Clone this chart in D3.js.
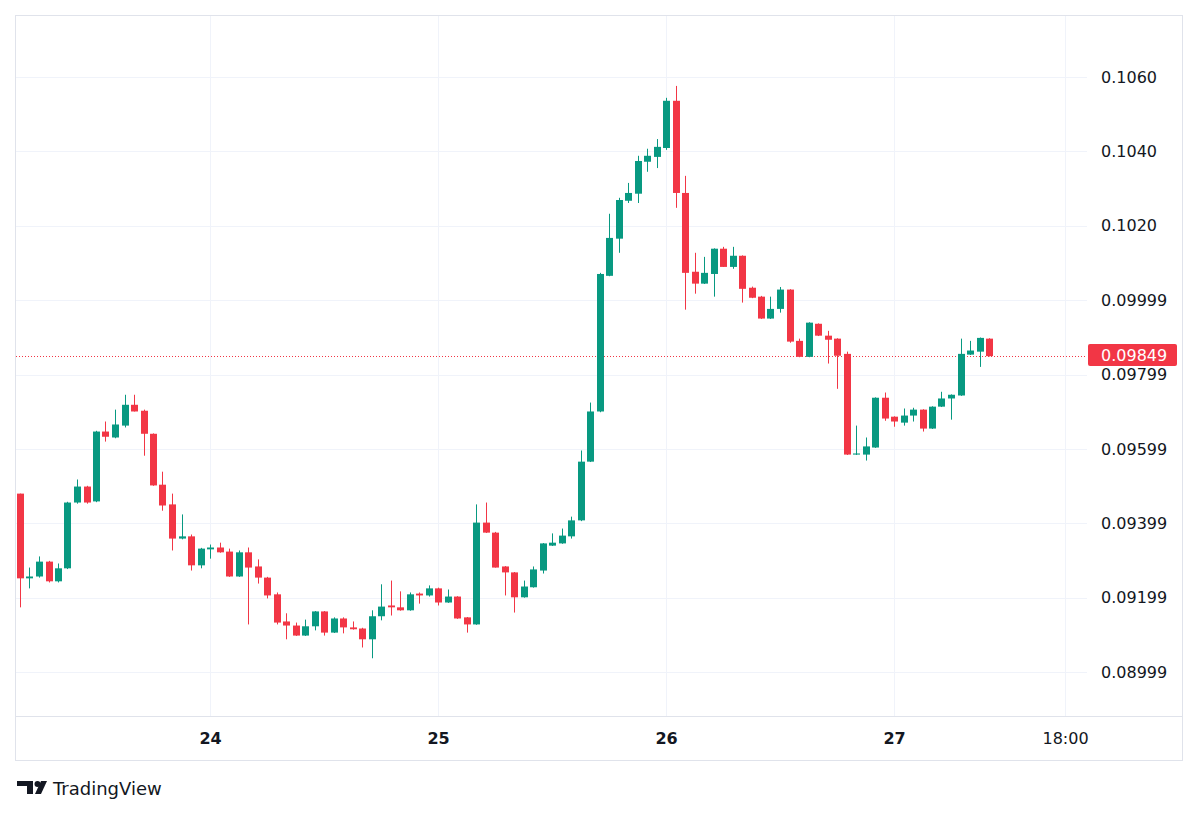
<html>
<head>
<style>
  body { margin: 0; background: #fff; }
  svg text { font-family: "DejaVu Sans", sans-serif; fill: #131722; }
</style>
</head>
<body>
<svg id="chart" width="1200" height="817"></svg>
<script src="https://cdn.jsdelivr.net/npm/d3@7"></script>
<script>
// hourly candles, first one at 23rd 04:00
const opens  = [0.09479,0.09251,0.09256,0.09296,0.09243,0.09278,0.09455,0.09498,0.09458,0.09646,
                0.09630,0.09662,0.09718,0.09702,0.09640,0.09503,0.09450,0.09358,0.09364,0.09286,
                0.09329,0.09334,0.09323,0.09256,0.09321,0.09283,0.09253,0.09208,0.09135,0.09124,
                0.09097,0.09122,0.09162,0.09105,0.09143,0.09119,0.09116,0.09087,0.09149,0.09178,
                0.09173,0.09165,0.09210,0.09205,0.09224,0.09186,0.09202,0.09146,0.09127,0.09401,
                0.09374,0.09283,0.09267,0.09200,0.09227,0.09272,0.09339,0.09345,0.09364,0.09407,
                0.09565,0.09700,0.10065,0.10165,0.10267,0.10286,0.10372,0.10385,0.10409,0.10536,
                0.10288,0.10076,0.10044,0.10070,0.10138,0.10089,0.10119,0.10033,0.10009,0.09950,
                0.09976,0.10028,0.09890,0.09847,0.09936,0.09904,0.09896,0.09855,0.09584,0.09584,
                0.09603,0.09737,0.09686,0.09670,0.09689,0.09705,0.09654,0.09713,0.09735,0.09743,
                0.09853,0.09861,0.09896]
const highs  = [0.09479,0.09280,0.09310,0.09298,0.09291,0.09457,0.09517,0.09500,0.09648,0.09673,
                0.09705,0.09745,0.09745,0.09705,0.09641,0.09538,0.09479,0.09423,0.09369,0.09333,
                0.09342,0.09347,0.09331,0.09326,0.09334,0.09302,0.09255,0.09213,0.09157,0.09132,
                0.09140,0.09163,0.09163,0.09146,0.09146,0.09135,0.09118,0.09165,0.09235,0.09245,
                0.09216,0.09213,0.09213,0.09232,0.09226,0.09221,0.09203,0.09147,0.09450,0.09455,
                0.09376,0.09284,0.09268,0.09245,0.09283,0.09346,0.09372,0.09385,0.09417,0.09595,
                0.09724,0.10073,0.10232,0.10275,0.10315,0.10388,0.10407,0.10433,0.10544,0.10576,
                0.10334,0.10127,0.10116,0.10139,0.10143,0.10143,0.10120,0.10036,0.10011,0.10009,
                0.10035,0.10029,0.09896,0.09940,0.09937,0.09917,0.09897,0.09861,0.09662,0.09630,
                0.09738,0.09751,0.09687,0.09708,0.09710,0.09706,0.09714,0.09753,0.09746,0.09896,
                0.09890,0.09899,0.09897]
const lows   = [0.09173,0.09224,0.09253,0.09240,0.09240,0.09276,0.09452,0.09452,0.09456,0.09619,
                0.09628,0.09657,0.09700,0.09581,0.09500,0.09433,0.09326,0.09356,0.09272,0.09278,
                0.09304,0.09320,0.09255,0.09255,0.09127,0.09237,0.09197,0.09127,0.09087,0.09096,
                0.09096,0.09111,0.09097,0.09104,0.09103,0.09113,0.09065,0.09036,0.09138,0.09151,
                0.09164,0.09164,0.09183,0.09202,0.09178,0.09185,0.09142,0.09105,0.09126,0.09373,
                0.09280,0.09205,0.09159,0.09199,0.09226,0.09264,0.09338,0.09344,0.09358,0.09405,
                0.09564,0.09698,0.10064,0.10127,0.10261,0.10261,0.10345,0.10355,0.10404,0.10248,
                0.09974,0.10017,0.10043,0.10009,0.10089,0.10084,0.09993,0.10005,0.09949,0.09949,
                0.09966,0.09885,0.09846,0.09846,0.09903,0.09829,0.09761,0.09583,0.09583,0.09568,
                0.09602,0.09675,0.09659,0.09662,0.09673,0.09646,0.09653,0.09712,0.09678,0.09742,
                0.09852,0.09820,0.09848]
const closes = [0.09251,0.09256,0.09296,0.09243,0.09278,0.09455,0.09498,0.09455,0.09646,0.09632,
                0.09665,0.09718,0.09700,0.09640,0.09501,0.09447,0.09358,0.09364,0.09286,0.09331,
                0.09334,0.09321,0.09256,0.09321,0.09280,0.09253,0.09205,0.09132,0.09124,0.09097,
                0.09122,0.09162,0.09105,0.09143,0.09119,0.09114,0.09087,0.09149,0.09175,0.09173,
                0.09165,0.09208,0.09205,0.09224,0.09186,0.09202,0.09143,0.09127,0.09401,0.09374,
                0.09280,0.09267,0.09200,0.09229,0.09275,0.09345,0.09347,0.09366,0.09407,0.09565,
                0.09700,0.10070,0.10167,0.10269,0.10288,0.10374,0.10388,0.10412,0.10536,0.10288,
                0.10073,0.10044,0.10073,0.10138,0.10089,0.10119,0.10030,0.10006,0.09950,0.09976,
                0.10028,0.09888,0.09847,0.09939,0.09904,0.09893,0.09850,0.09584,0.09587,0.09606,
                0.09737,0.09681,0.09673,0.09689,0.09705,0.09654,0.09713,0.09735,0.09745,0.09855,
                0.09864,0.09898,0.09849]

const priceTicks  = [0.1060, 0.1040, 0.1020, 0.09999, 0.09799, 0.09599, 0.09399, 0.09199, 0.08999]
const priceLabels = ["0.1060", "0.1040", "0.1020", "0.09999", "0.09799", "0.09599", "0.09399", "0.09199", "0.08999"]
const timeTicks   = [Date.UTC(2024, 6, 24), Date.UTC(2024, 6, 25), Date.UTC(2024, 6, 26), Date.UTC(2024, 6, 27), Date.UTC(2024, 6, 27, 18)]
const timeLabels  = ["24", "25", "26", "27", "18:00"]
const lastPrice = 0.09849

const firstTime = new Date(Date.UTC(2024, 6, 23, 4))

let data = opens.map((o, i) => ({
    time: d3.utcHour.offset(firstTime, i),
    open: o, high: highs[i], low: lows[i], close: closes[i]
}))

let plotLeft = 16, plotRight = 1087, plotTop = 16, plotBottom = 716
let up = "#089981", down = "#f23645"

let svg = d3.select("#chart")

let xScale = d3.scaleUtc()
    .domain([new Date(timeTicks[0]), new Date(timeTicks[3])])
    .range([210, 894])

let yScale = d3.scaleLinear()
    .domain([0.08999, 0.1060])
    .range([672, 77])

// outer frame
svg.append("rect")
    .attr("x", 15.5).attr("y", 15.5)
    .attr("width", 1167).attr("height", 745)
    .attr("fill", "#fff").attr("stroke", "#e0e3eb")

// grid
svg.append("g").selectAll("line").data(priceTicks).join("line")
    .attr("x1", plotLeft).attr("x2", plotRight)
    .attr("y1", d => Math.round(yScale(d)) + 0.5).attr("y2", d => Math.round(yScale(d)) + 0.5)
    .attr("stroke", "#f0f3fa")
svg.append("g").selectAll("line").data(timeTicks).join("line")
    .attr("x1", d => Math.round(xScale(new Date(d))) + 0.5).attr("x2", d => Math.round(xScale(new Date(d))) + 0.5)
    .attr("y1", plotTop).attr("y2", plotBottom)
    .attr("stroke", "#f0f3fa")

// time scale border
svg.append("line")
    .attr("x1", 16).attr("x2", 1182).attr("y1", plotBottom + 0.5).attr("y2", plotBottom + 0.5)
    .attr("stroke", "#e0e3eb")

svg.append("clipPath").attr("id", "plotClip")
    .append("rect").attr("x", plotLeft).attr("y", plotTop)
    .attr("width", plotRight - plotLeft).attr("height", plotBottom - plotTop)

let plot = svg.append("g").attr("clip-path", "url(#plotClip)")

// last price dotted line
plot.append("line")
    .attr("x1", plotLeft).attr("x2", plotRight)
    .attr("y1", Math.round(yScale(lastPrice)) + 0.5).attr("y2", Math.round(yScale(lastPrice)) + 0.5)
    .attr("stroke", down).attr("stroke-dasharray", "1,2")

let candles = plot.append("g").selectAll("g").data(data).join("g")
    .attr("fill", d => d.close >= d.open ? up : down)

candles.append("rect") // wick
    .attr("x", d => Math.round(xScale(d.time)))
    .attr("width", 1)
    .attr("y", d => yScale(d.high))
    .attr("height", d => Math.max(1, yScale(d.low) - yScale(d.high)))

candles.append("rect") // body
    .attr("x", d => Math.round(xScale(d.time)) - 3)
    .attr("width", 7)
    .attr("y", d => yScale(Math.max(d.open, d.close)))
    .attr("height", d => Math.max(1, Math.abs(yScale(d.open) - yScale(d.close))))

// price axis
let yAxis = svg.append("g")
    .attr("transform", "translate(1088,0)")
    .call(d3.axisRight(yScale).tickValues(priceTicks).tickSize(0).tickPadding(13)
        .tickFormat((d, i) => priceLabels[i]))
yAxis.select(".domain").remove()
yAxis.selectAll("text").attr("font-size", 16).attr("fill", "#131722")
    .attr("font-family", "DejaVu Sans, sans-serif")

// time axis
let xAxis = svg.append("g")
    .attr("transform", "translate(0," + plotBottom + ")")
    .call(d3.axisBottom(xScale).tickValues(timeTicks.map(d => new Date(d))).tickSize(0).tickPadding(17)
        .tickFormat((d, i) => timeLabels[i]))
xAxis.select(".domain").remove()
xAxis.selectAll("text").attr("font-size", 16).attr("fill", "#131722")
    .attr("font-family", "DejaVu Sans, sans-serif")
    .attr("font-weight", (d, i) => i < 4 ? "bold" : "normal")

// last price label
let lpY = yScale(lastPrice)
svg.append("rect")
    .attr("x", 1088).attr("y", Math.round(lpY) - 12)
    .attr("width", 89).attr("height", 22).attr("rx", 2)
    .attr("fill", down)
svg.append("text")
    .attr("x", 1101).attr("y", Math.round(lpY) - 1)
    .attr("dy", "0.35em")
    .attr("font-size", 16)
    .style("fill", "#fff")
    .text(lastPrice.toFixed(5))

// TradingView logo
let logo = svg.append("g").attr("transform", "translate(17,781)").attr("fill", "#131722")
logo.append("path").attr("d", "M0,0 H16 V13 H10 V5 H0 Z")
logo.append("circle").attr("cx", 20.5).attr("cy", 3).attr("r", 3)
logo.append("path").attr("d", "M24,0 H30 L24,13 H18 Z")
svg.append("text")
    .attr("x", 53).attr("y", 795)
    .attr("font-size", 18)
    .text("TradingView")
</script>
</body>
</html>
